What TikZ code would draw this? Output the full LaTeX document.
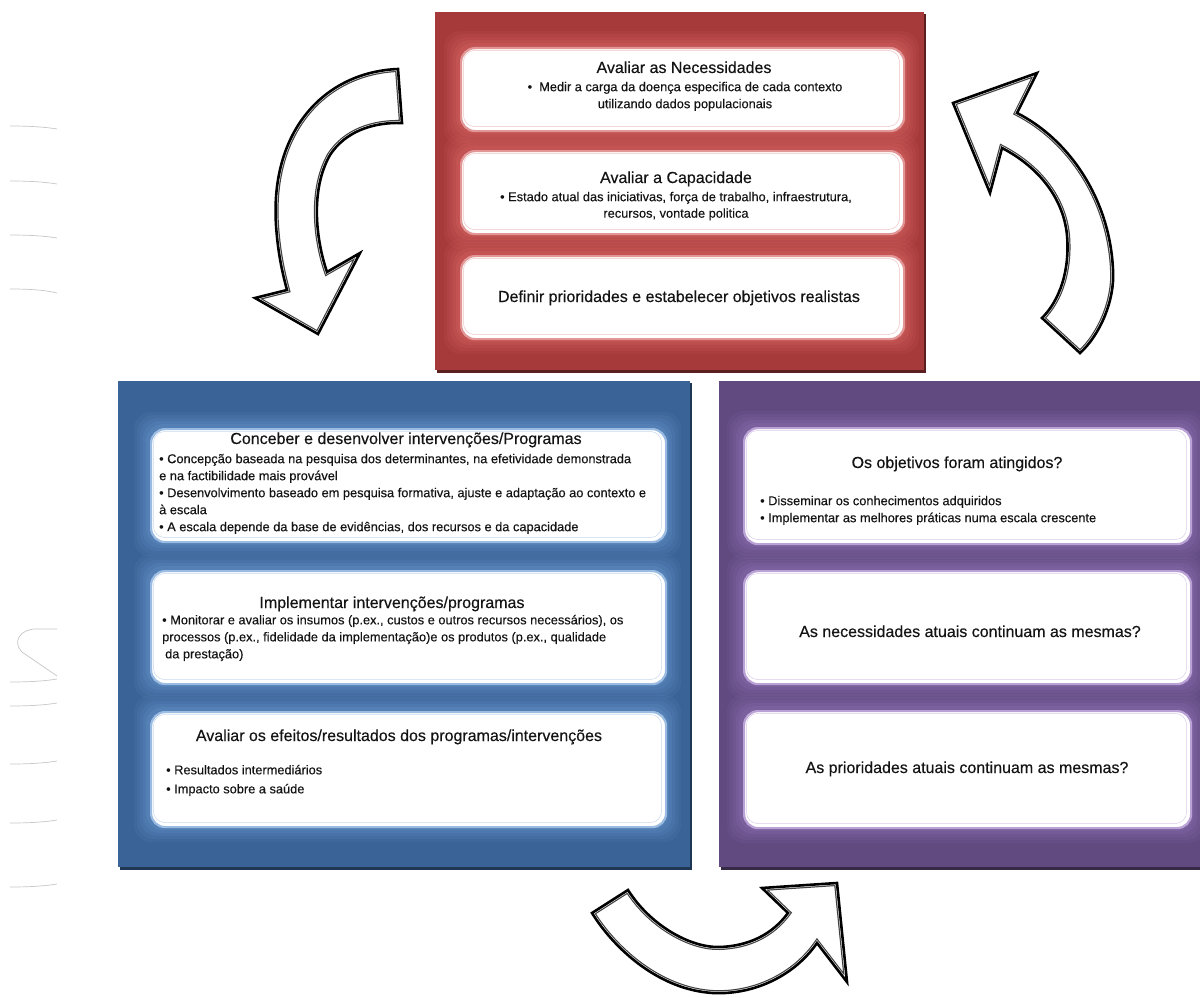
\documentclass[tikz,border=0pt]{standalone}
\usepackage{fontspec}
\setmainfont{Liberation Sans}
\newfontfamily\txtfont[FakeBold=0.3]{Liberation Sans}
\definecolor{redP}{RGB}{166,57,58}
\definecolor{redPhalo}{RGB}{214,100,100}
\definecolor{redPedge}{RGB}{226,150,150}
\definecolor{bluP}{RGB}{58,99,151}
\definecolor{bluPhalo}{RGB}{100,145,200}
\definecolor{bluPedge}{RGB}{155,188,226}
\definecolor{purP}{RGB}{96,74,128}
\definecolor{purPhalo}{RGB}{140,110,176}
\definecolor{purPedge}{RGB}{186,162,214}
\tikzset{
  panelst/.style={fill=#1, inner sep=0pt, anchor=north west},
  boxst/.style={draw=#1, line width=2.2pt, fill=white, rounded corners=14pt, inner sep=0pt, anchor=north west},
  ttl/.style={font=\txtfont\fontsize{16}{19}\selectfont, anchor=base, inner sep=0pt, text=black!92},
  bod/.style={font=\txtfont\fontsize{12.8}{17}\selectfont, inner sep=0pt, text=black!92},
  faint/.style={draw=black!22, line width=0.7pt},
}
% name, theme, x1, y1, x2, y2
\newcommand\mkbox[6]{%
  \foreach \e/\o in {16/0.12,13/0.14,10/0.17,7/0.22,4/0.3}{
    \fill[#2halo, opacity=\o, rounded corners=17pt] (#3-\e,#4-\e) rectangle (#5+\e,#6+\e);
  }
  \node[boxst=#2edge, minimum width={#5-#3}, minimum height={#6-#4}] (#1) at (#3,#4) {};
  \draw[#2edge!55, line width=0.5pt, rounded corners=11pt] (#3+3.5,#4+3.5) rectangle (#5-3.5,#6-3.5);
}
% panel: name, colour, x1, y1, x2, y2
\newcommand\mkpanel[6]{%
  \fill[#2!55!black] (#3+2,#4+2) rectangle (#5+1.5,#6+3);
  \node[panelst=#2, minimum width={#5-#3}, minimum height={#6-#4}] (#1) at (#3,#4) {};
}
\newcommand\fancyarrow[1]{%
  \fill[white] #1;
  \begin{scope}
    \clip #1;
    \draw[line width=6pt, black!75] #1;
    \draw[line width=3.6pt, white] #1;
  \end{scope}
  \draw[line width=2.6pt, black, line join=miter] #1;
}
\def\pathArrowL{(398,69) .. controls (325,72) and (270,130) .. (276,225) .. controls (278,255) and (283,275) .. (287,290) -- (255,298) -- (318,334) -- (360,253) -- (327,272) .. controls (316,240) and (310,190) .. (330,155) .. controls (345,132) and (372,122) .. (402,123) -- cycle}
\def\pathArrowR{(953,103) -- (1037,73) -- (1017,113) .. controls (1070,140) and (1110,200) .. (1113,270) .. controls (1115,300) and (1100,335) .. (1080,353) -- (1042,318) .. controls (1060,300) and (1070,270) .. (1067,235) .. controls (1063,195) and (1035,165) .. (1002,148) -- (990,193) -- cycle}
\def\pathArrowB{(628,890) .. controls (650,925) and (690,948) .. (720,947) .. controls (748,946) and (772,935) .. (788,913) -- (762,888) -- (837,883) -- (847,982) -- (817,943) .. controls (795,975) and (755,995) .. (713,993) .. controls (660,990) and (615,950) .. (592,913) -- cycle}
\begin{document}
\begin{tikzpicture}[x=1pt,y=-1pt]
\useasboundingbox (0,0) rectangle (1200,998);
\fill[white] (0,0) rectangle (1200,998);

% faint decorative lines at the left margin
\draw[faint] (10,126) .. controls (30,126) and (45,127) .. (57,129);
\draw[faint] (10,181) .. controls (30,181) and (45,182) .. (57,184);
\draw[faint] (10,235) .. controls (30,235) and (45,236) .. (57,238);
\draw[faint] (10,289) .. controls (30,289) and (45,290) .. (57,293);
\draw[faint] (57,629) -- (36,629) .. controls (20,629) and (12,642) .. (22,652) -- (57,676);
\draw[faint] (10,682) .. controls (30,682) and (45,681) .. (57,679);
\draw[faint] (10,706) .. controls (30,706) and (45,705) .. (57,703);
\draw[faint] (10,764) .. controls (30,764) and (45,763) .. (57,761);
\draw[faint] (10,823) .. controls (30,823) and (45,822) .. (57,820);
\draw[faint] (10,887) .. controls (30,887) and (45,886) .. (57,884);

% panels
\mkpanel{redpanel}{redP}{435}{12}{924}{370}
\mkpanel{bluepanel}{bluP}{118}{381}{690}{867}
\mkpanel{purplepanel}{purP}{719}{381}{1200}{867}

% red boxes
\mkbox{r1}{redP}{460}{47}{903}{130}
\mkbox{r2}{redP}{460}{150}{903}{233}
\mkbox{r3}{redP}{460}{255}{903}{338}
% blue boxes
\mkbox{b1}{bluP}{150}{428}{665}{541}
\mkbox{b2}{bluP}{150}{570}{665}{683}
\mkbox{b3}{bluP}{150}{711}{665}{826}
% purple boxes
\mkbox{p1}{purP}{743}{427}{1190}{543}
\mkbox{p2}{purP}{743}{570}{1190}{683}
\mkbox{p3}{purP}{743}{710}{1190}{827}

% red texts
\node[ttl] (r1t) at (684,73) {Avaliar as Necessidades};
\node[bod, anchor=north, align=center] (r1b) at (685,81.7) {•~~Medir a carga da doença especifica de cada contexto\\utilizando dados populacionais};
\node[ttl] (r2t) at (676,183) {Avaliar a Capacidade};
\node[bod, anchor=north, align=center] (r2b) at (676,191.7) {• Estado atual das iniciativas, força de trabalho, infraestrutura,\\[-0.5pt]recursos, vontade politica};
\node[ttl] (r3t) at (679,302) {Definir prioridades e estabelecer objetivos realistas};

% blue texts
\node[ttl] (b1t) at (406,444) {Conceber e desenvolver intervenções/Programas};
\node[bod, anchor=north west, align=left] (b1b) at (159,453.7) {• Concepção baseada na pesquisa dos determinantes, na efetividade demonstrada\\e na factibilidade mais provável\\• Desenvolvimento baseado em pesquisa formativa, ajuste e adaptação ao contexto e\\à escala\\• A escala depende da base de evidências, dos recursos e da capacidade};
\node[ttl] (b2t) at (392,608) {Implementar intervenções/programas};
\node[bod, anchor=north west, align=left] (b2b) at (162,614.7) {• Monitorar e avaliar os insumos (p.ex., custos e outros recursos necessários), os\\processos (p.ex., fidelidade da implementação)e os produtos (p.ex., qualidade\\\hspace*{3pt}da prestação)};
\node[ttl] (b3t) at (399,741) {Avaliar os efeitos/resultados dos programas/intervenções};
\node[bod, anchor=north west, align=left] (b3b) at (166,764.7) {• Resultados intermediários\\[2pt]• Impacto sobre a saúde};

% purple texts
\node[ttl] (p1t) at (957,468) {Os objetivos foram atingidos?};
\node[bod, anchor=north west, align=left] (p1b) at (760,495.7) {• Disseminar os conhecimentos adquiridos\\• Implementar as melhores práticas numa escala crescente};
\node[ttl] (p2t) at (970,637) {As necessidades atuais continuam as mesmas?};
\node[ttl] (p3t) at (967,773) {As prioridades atuais continuam as mesmas?};

% curved block arrows
\fancyarrow{\pathArrowL}
\fancyarrow{\pathArrowR}
\fancyarrow{\pathArrowB}
\end{tikzpicture}
\end{document}
